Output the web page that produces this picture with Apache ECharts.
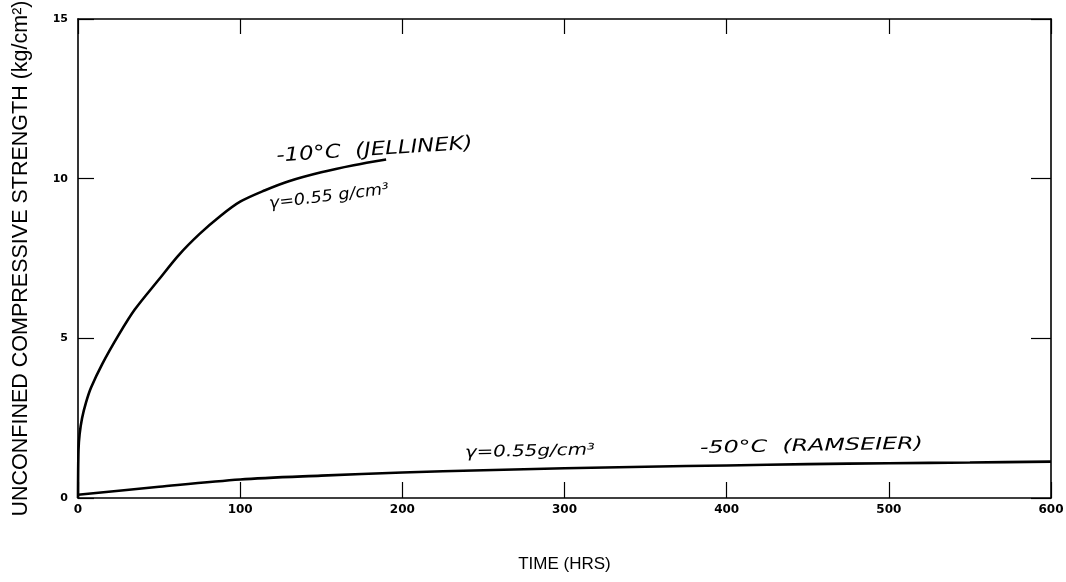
<!DOCTYPE html>
<html>
<head>
<meta charset="utf-8">
<script src="https://cdn.jsdelivr.net/npm/echarts@6/dist/echarts.min.js"></script>
<style>html,body{margin:0;padding:0;background:#fff}#c{width:1066px;height:582px}</style>
</head>
<body>
<div id="c"></div>
<script>
const xTicks = [0, 100, 200, 300, 400, 500, 600];
const yTicks = [0, 5, 10, 15];
const jellinekTime = [0, 0.3, 1, 2.5, 5, 8, 15, 25, 35, 50, 62, 75, 88, 100, 115, 130, 150, 170, 190];
const jellinekStrength = [0, 1.5, 2.0, 2.5, 3.0, 3.45, 4.2, 5.1, 5.9, 6.85, 7.6, 8.27, 8.84, 9.28, 9.63, 9.92, 10.2, 10.42, 10.6];
const ramseierTime = [0, 50, 100, 150, 200, 250, 300, 350, 400, 450, 500, 550, 600];
const ramseierStrength = [0.1, 0.35, 0.58, 0.7, 0.8, 0.87, 0.93, 0.98, 1.02, 1.06, 1.09, 1.11, 1.14];

const pairs = (xs, ys) => xs.map((x, i) => [x, ys[i]]);
const chart = echarts.init(document.getElementById('c'));
const axisLine = { show: true, onZero: false, lineStyle: { color: '#000', width: 1.6 } };
const tick = (len) => ({ show: true, inside: true, length: len, lineStyle: { color: '#000', width: 1.2 } });
const lblFont = { color: '#000', fontFamily: 'DejaVu Sans', fontWeight: 'bold', fontSize: 12 };
const annot = { fill: '#000', fontFamily: 'DejaVu Sans', fontStyle: 'italic', textVerticalAlign: 'bottom' };

chart.setOption({
  animation: false,
  grid: { left: 78, right: 15, top: 19, bottom: 84, outerBoundsMode: 'none', containLabel: false },
  xAxis: [
    { type: 'value', min: 0, max: 600, interval: 100, position: 'bottom',
      axisLine, axisTick: tick(16), splitLine: { show: false },
      axisLabel: { ...lblFont, margin: 6, formatter: v => xTicks.includes(v) ? String(v) : '' },
      name: 'TIME (HRS)', nameLocation: 'middle', nameGap: 58,
      nameTextStyle: { color: '#000', fontFamily: 'Liberation Sans', fontSize: 17 } },
    { type: 'value', min: 0, max: 600, interval: 100, position: 'top',
      axisLine, axisTick: tick(15), axisLabel: { show: false }, splitLine: { show: false } }
  ],
  yAxis: [
    { type: 'value', min: 0, max: 15, interval: 5, position: 'left',
      axisLine, axisTick: tick(16), splitLine: { show: false },
      axisLabel: { ...lblFont, fontSize: 11, margin: 10, formatter: v => yTicks.includes(v) ? String(v) : '' },
      name: 'UNCONFINED COMPRESSIVE STRENGTH (kg/cm²)', nameLocation: 'middle', nameGap: 46,
      nameTextStyle: { color: '#000', fontFamily: 'Liberation Sans', fontSize: 21.5 } },
    { type: 'value', min: 0, max: 15, interval: 5, position: 'right',
      axisLine, axisTick: tick(20), axisLabel: { show: false }, splitLine: { show: false } }
  ],
  series: [
    { type: 'line', name: '-10°C (JELLINEK)', data: pairs(jellinekTime, jellinekStrength),
      smooth: 0.3, showSymbol: false, lineStyle: { color: '#000', width: 2.6 } },
    { type: 'line', name: '-50°C (RAMSEIER)', data: pairs(ramseierTime, ramseierStrength),
      smooth: 0.3, showSymbol: false, lineStyle: { color: '#000', width: 2.6 } },
    { type: 'line', name: 'frame', xAxisIndex: 1, yAxisIndex: 1, data: [], silent: true }
  ],
  graphic: [
    { type: 'text', x: 277, y: 166, rotation: 0.065, scaleX: 1.2, style: { ...annot, text: '-10°C  (JELLINEK)', fontSize: 19 } },
    { type: 'text', x: 270, y: 212, rotation: 0.12, scaleX: 1.1, style: { ...annot, text: 'γ=0.55 g/cm³', fontSize: 16 } },
    { type: 'text', x: 465, y: 461, rotation: 0.02, scaleX: 1.24, style: { ...annot, text: 'γ=0.55g/cm³', fontSize: 16 } },
    { type: 'text', x: 700, y: 457, rotation: 0.02, scaleX: 1.4, style: { ...annot, text: '-50°C  (RAMSEIER)', fontSize: 17 } }
  ]
});
</script>
</body>
</html>
